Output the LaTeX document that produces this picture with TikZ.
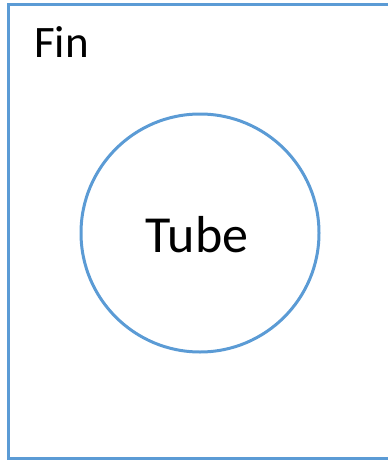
\documentclass[tikz,border=0pt]{standalone}
\usepackage{fontspec}
\setmainfont{Carlito}
\definecolor{edgeblue}{RGB}{91,155,213}
\begin{document}
\begin{tikzpicture}[x=1pt,y=-1pt,
  outline/.style={draw=edgeblue,line width=3pt},
  label/.style={inner sep=0pt,anchor=base west}]
\useasboundingbox (0,0) rectangle (388,460);
\coordinate (tr) at (388,5);
\coordinate (tl) at (8,5);
\coordinate (bl) at (8,458);
\coordinate (br) at (388,458);
\draw[outline] (tr) -- (tl) -- (bl) -- (br);
\node[outline,circle,minimum size=238pt,inner sep=0pt] (tube) at (200,233) {};
\node[label] (fin) at (34,57) {\fontsize{45}{50}\selectfont Fin};
\node[inner sep=0pt,anchor=base] (tubelabel) at (197,252) {\fontsize{52}{58}\selectfont Tube};
\end{tikzpicture}
\end{document}
